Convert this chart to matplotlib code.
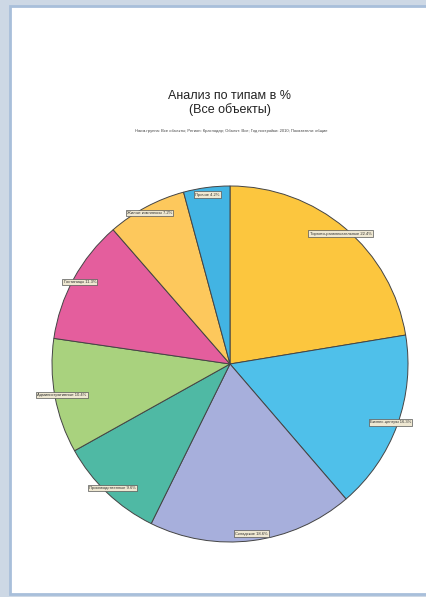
import matplotlib.pyplot as plt
from matplotlib.patches import Rectangle

plt.rcParams['font.family'] = ['Liberation Sans', 'DejaVu Sans']

# data (share of each object type, %)
types = ["Торгово-развлекательные", "Бизнес-центры", "Складские",
         "Производственные", "Административные", "Гостиницы",
         "Жилые комплексы", "Прочие"]
shares = [22.4, 16.3, 18.6, 9.6, 10.4, 11.3, 7.2, 4.2]
colors = ["#fcc63e", "#4fc0ea", "#a7afdc", "#4fb9a4",
          "#a9d27e", "#e45e9d", "#fdc85c", "#42b4e3"]

title = "Анализ по типам в %\n(Все объекты)"
subtitle = ("Наим.группа: Все объекты; Регион: Краснодар; Объект: Все; "
            "Год постройки: 2010; Показатели: общие")

fig = plt.figure(figsize=(4.26, 5.97), dpi=100)
W, H = 426, 597

# page frame (light blue background, white sheet)
bg = fig.add_axes([0, 0, 1, 1])
bg.set_xlim(0, W)
bg.set_ylim(H, 0)
bg.axis('off')
bg.add_patch(Rectangle((0, 0), W, H, color="#cdd8e5", zorder=0))
bg.add_patch(Rectangle((10, 6), W, 588, facecolor="white",
                       edgecolor="#a8bfda", lw=2, zorder=1))

bg.text(230, 103, title, ha='center', va='center', fontsize=9,
        color="#222222", zorder=3, linespacing=1.15)
bg.text(231, 131, subtitle, ha='center', va='center', fontsize=3,
        color="#444444", zorder=3)

# pie
ax = fig.add_axes([52 / W, 1 - 542 / H, 356 / W, 356 / H])
labels = ["%s %.1f%%" % (t, s) for t, s in zip(types, shares)]
wedges, texts = ax.pie(shares, colors=colors, startangle=90, counterclock=False,
                       labels=labels, labeldistance=0.96,
                       wedgeprops=dict(edgecolor="#444444", linewidth=0.7),
                       textprops=dict(fontsize=3, color="#333333"))
for t in texts:
    t.set_ha('center')
    t.set_va('center')
    t.set_bbox(dict(boxstyle="square,pad=0.3", facecolor="#efe8d2",
                    edgecolor="#555555", linewidth=0.5))
ax.set_aspect('equal')
ax.set_xlim(-1, 1)
ax.set_ylim(-1, 1)

fig.savefig("out.png", dpi=100)
